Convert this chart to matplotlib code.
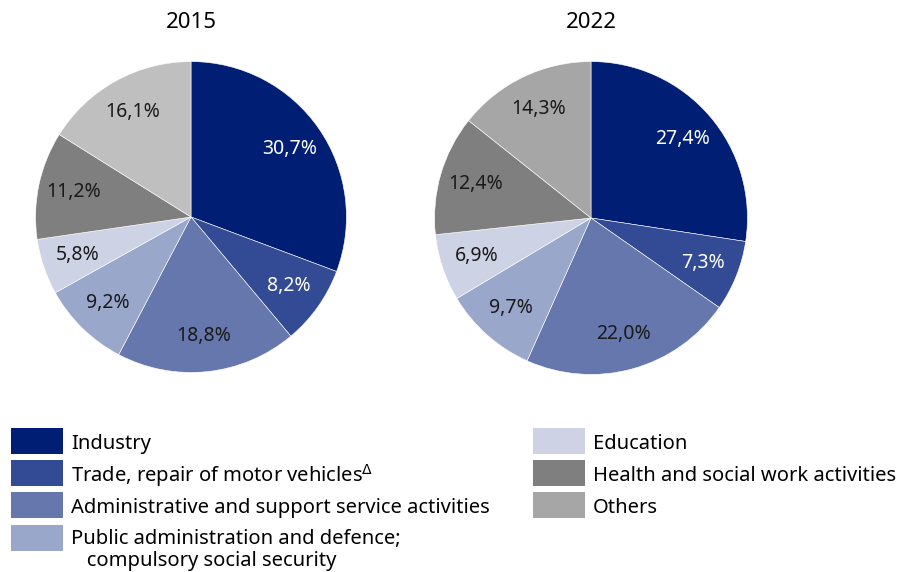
import matplotlib
matplotlib.use("Agg")
import matplotlib.pyplot as plt
from matplotlib.patches import Rectangle

plt.rcParams["font.family"] = ["Noto Sans", "DejaVu Sans"]

categories = [
    "Industry",
    "Trade, repair of motor vehicles$^{\\Delta}$",
    "Administrative and support service activities",
    "Public administration and defence;\n   compulsory social security",
    "Education",
    "Health and social work activities",
    "Others",
]
years = ["2015", "2022"]
shares_2015 = [30.7, 8.2, 18.8, 9.2, 5.8, 11.2, 16.1]
shares_2022 = [27.4, 7.3, 22.0, 9.7, 6.9, 12.4, 14.3]

colors = ["#001f74", "#334a94", "#6577ac", "#99a7cb", "#cdd3e5", "#7f7f7f", "#a6a6a6"]
others_2015 = "#bfbfbf"
label_colors = ["white", "white", "#1a1a1a", "#1a1a1a", "#1a1a1a", "#1a1a1a", "#1a1a1a"]

W, H = 909, 572
fig = plt.figure(figsize=(W / 100, H / 100), dpi=100)


def add_pie(cx, cy, r, values, title, pie_colors):
    ax = fig.add_axes([(cx - r) / W, 1 - (cy + r) / H, 2 * r / W, 2 * r / H])
    wedges, texts = ax.pie(values, colors=pie_colors, startangle=90, counterclock=False,
                           radius=1.0, wedgeprops=dict(edgecolor="white", linewidth=0.4),
                           labels=[f"{v:.1f}%".replace(".", ",") for v in values],
                           labeldistance=0.77,
                           textprops=dict(fontsize=14, ha="center", va="center"))
    for t, c in zip(texts, label_colors):
        t.set_color(c)
        t.set_horizontalalignment("center")
    ax.set_xlim(-1.01, 1.01)
    ax.set_ylim(-1.01, 1.01)
    ax.axis("off")
    fig.text(cx / W, 1 - 23 / H, title, ha="center", va="center", fontsize=16)


add_pie(191, 217, 157, shares_2015, years[0], colors[:-1] + [others_2015])
add_pie(591, 218, 158, shares_2022, years[1], colors)

# legend, drawn by hand in two columns
rows = [441, 473, 505, 538]
for i, (name, col) in enumerate(zip(categories, colors)):
    if i < 4:
        px, tx, y = 11, 71, rows[i]
    else:
        px, tx, y = 533, 593, rows[i - 4]
    fig.add_artist(Rectangle((px / W, 1 - (y + 13) / H), 52 / W, 26 / H,
                             facecolor=col, edgecolor="none", transform=fig.transFigure))
    va_y = y + 3 if i != 3 else y + 12
    fig.text(tx / W, 1 - va_y / H, name, ha="left", va="center", fontsize=14.5,
             linespacing=1.1)

fig.savefig("out.png", dpi=100)
